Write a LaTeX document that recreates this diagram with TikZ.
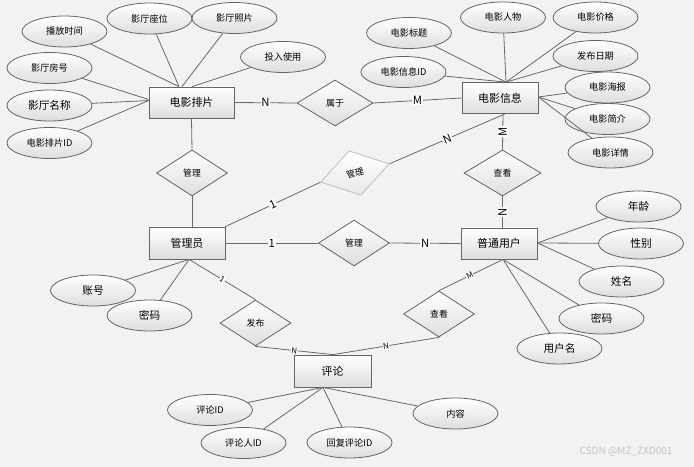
\documentclass[tikz,border=0pt]{standalone}
\usepackage{fontspec}
\setmainfont{Noto Sans CJK SC}
\usetikzlibrary{shapes.geometric,calc,shadows}
\definecolor{bgc}{RGB}{242,242,242}
\definecolor{bc}{RGB}{100,100,100}
\definecolor{lc}{RGB}{105,105,105}
\definecolor{shadec}{RGB}{222,222,222}
\definecolor{wmc}{RGB}{195,195,195}
\tikzset{
  base/.style={draw=bc, line width=0.6pt, top color=white, bottom color=shadec, inner sep=0pt},
  attr/.style={base, ellipse, minimum width=63.75pt, minimum height=23.25pt, font=\fontsize{6.9}{8}\selectfont},
  bigattr/.style={attr, font=\fontsize{8}{9}\selectfont},
  ent/.style={base, rectangle, minimum width=57pt, minimum height=23.25pt, font=\fontsize{8.2}{10}\selectfont,
    drop shadow={shadow xshift=0.7pt, shadow yshift=-0.7pt, opacity=0.35}},
  rel/.style={base, diamond, minimum width=53.25pt, minimum height=34.5pt, font=\fontsize{6.6}{8}\selectfont},
  conn/.style={draw=lc, line width=0.6pt},
  lbl/.style={fill=white, inner sep=0.6pt, font=\fontsize{8.5}{9}\selectfont},
  slbl/.style={fill=white, inner sep=0.4pt, font=\fontsize{6}{7}\selectfont},
}
\begin{document}
\begin{tikzpicture}[x=0.75pt,y=-0.75pt]
\fill[bgc] (0,0) rectangle (694,467);
\useasboundingbox (0,0) rectangle (694,467);

% entities
\node[ent, minimum width=63.75pt] (pp) at (191.5,102.5) {电影排片};
\node[ent] (xx) at (500,98) {电影信息};
\node[ent, minimum height=24pt] (gl) at (187,243) {管理员};
\node[ent] (yh) at (499,243.5) {普通用户};
\node[ent, minimum width=57.75pt, minimum height=24pt] (pl) at (332.5,371) {评论};

% relationships
\node[rel, minimum width=57pt] (sy) at (335,103) {属于};
\node[rel] (gl1) at (192,173) {管理};
\node[rel, rotate=15, draw={rgb,255:red,190;green,190;blue,190}, bottom color={rgb,255:red,232;green,232;blue,232}] (gl2) at (355,173) {管理};
\node[rel] (gl3) at (354,243) {管理};
\node[rel, minimum width=57.75pt] (ck1) at (502.5,173) {查看};
\node[rel] (ck2) at (439,314) {查看};
\node[rel] (fb) at (255.5,323) {发布};

% attributes of 电影排片
\node[attr] (a1) at (64.5,31.5) {播放时间};
\node[attr] (a2) at (149.5,18.5) {影厅座位};
\node[attr] (a3) at (234.5,18) {影厅照片};
\node[attr] (a4) at (283,57) {投入使用};
\node[attr] (a5) at (49.5,68) {影厅房号};
\node[bigattr] (a6) at (49.5,105.5) {影厅名称};
\node[attr] (a7) at (49.5,143) {电影排片ID};

% attributes of 电影信息
\node[attr] (b1) at (409,33) {电影标题};
\node[attr] (b2) at (503,17.5) {电影人物};
\node[attr] (b3) at (595.5,17.5) {电影价格};
\node[attr] (b4) at (595.5,56) {发布日期};
\node[attr] (b5) at (403.5,72) {电影信息ID};
\node[attr] (b6) at (607.5,87.5) {电影海报};
\node[attr] (b7) at (607.5,119) {电影简介};
\node[attr] (b8) at (610.5,152.5) {电影详情};

% attributes of 管理员
\node[bigattr] (c1) at (93,290.5) {账号};
\node[bigattr] (c2) at (149.5,315.5) {密码};

% attributes of 普通用户
\node[bigattr] (d1) at (638.5,206.5) {年龄};
\node[bigattr] (d2) at (641,243.5) {性别};
\node[bigattr] (d3) at (621.5,281.5) {姓名};
\node[bigattr] (d4) at (601.5,318.5) {密码};
\node[bigattr] (d5) at (559.5,348.5) {用户名};

% attributes of 评论
\node[attr] (e1) at (210,410) {评论ID};
\node[attr] (e2) at (243.5,443) {评论人ID};
\node[attr] (e3) at (349.5,442.5) {回复评论ID};
\node[attr] (e4) at (455.5,413.5) {内容};

% connection points
\coordinate (ppT1) at ($(pp.north)+(-12.5,0)$);
\coordinate (ppT2) at ($(pp.north)+(-9.5,0)$);
\coordinate (ppT3) at ($(pp.north)+(0.5,0)$);
\coordinate (ppL) at ($(pp.west)+(0,-3)$);
\coordinate (ppL2) at ($(pp.west)+(0,-2)$);
\coordinate (xxT) at ($(xx.north)+(6,0)$);
\coordinate (xxR) at ($(xx.east)+(0,-1)$);
\coordinate (xxB1) at ($(xx.south)+(5,0)$);
\coordinate (xxB2) at ($(xx.south)+(3,0)$);
\coordinate (glT) at ($(gl.north)+(5,0)$);
\coordinate (glB) at ($(gl.south)+(2,0)$);
\coordinate (yhT) at ($(yh.north)+(3.5,0)$);
\coordinate (yhR) at ($(yh.east)+(0,-0.5)$);
\coordinate (yhB) at ($(yh.south)+(4,0)$);
\coordinate (plT) at ($(pl.north)+(0.5,0)$);
\coordinate (plB) at ($(pl.south)+(-9.5,0)$);

% attribute lines
\draw[conn] (a1) -- (ppT1);
\draw[conn] (a2) -- (ppT1);
\draw[conn] (a3) -- (ppT2);
\draw[conn] (a4) -- (ppT3);
\draw[conn] (a5) -- (ppL);
\draw[conn] (a6) -- (ppL2);
\draw[conn] (a7) -- (ppL2);
\draw[conn] (b1) -- (xxT);
\draw[conn] (b2) -- (xxT);
\draw[conn] (b3) -- (xxT);
\draw[conn] (b4) -- (xxT);
\draw[conn] (b5) -- (xxT);
\draw[conn] (b6) -- (xxR);
\draw[conn] (b7) -- (xxR);
\draw[conn] (b8) -- (xxR);
\draw[conn] (c1) -- (glB);
\draw[conn] (c2) -- (glB);
\draw[conn] (d1) -- (yhR);
\draw[conn] (d2) -- (yhR);
\draw[conn] (d3) -- (yhR);
\draw[conn] (d4) -- (yhB);
\draw[conn] (d5) -- (yhB);
\draw[conn] (e1) -- (plB);
\draw[conn] (e2) -- (plB);
\draw[conn] (e3) -- (plB);
\draw[conn] (e4) -- (plB);

% relationship lines
\draw[conn] (pp.east) -- node[lbl] {N} (sy.west);
\draw[conn] (sy.east) -- node[lbl] {M} (xx.west);
\draw[conn] (pp.south) -- (gl1.north);
\draw[conn] (gl1.south) -- (glT);
\draw[conn] (gl.north east) -- node[lbl, sloped] {1} (gl2.west);
\draw[conn] (gl2.east) -- node[lbl, sloped] {N} (xxB1);
\draw[conn] (gl.east) -- node[lbl] {1} (gl3.west);
\draw[conn] (gl3.east) -- node[lbl] {N} (yh.west);
\draw[conn] (xxB2) -- node[lbl, rotate=90] {M} (ck1.north);
\draw[conn] (ck1.south) -- node[lbl, rotate=90] {N} (yhT);
\draw[conn] (yhB) -- node[slbl, sloped, pos=0.52] {M} (ck2.north);
\draw[conn] (ck2.south) -- node[slbl, sloped] {N} (plT);
\draw[conn] (fb.south) -- node[slbl, sloped] {N} (plT);
\draw[conn] (glB) -- node[slbl, sloped] {1} (fb.north);

% watermark
\node[text=wmc, font=\fontsize{7.5}{9}\selectfont, inner sep=0pt] (wm) at (626,452) {CSDN @MZ\_ZXD001};
\end{tikzpicture}
\end{document}
